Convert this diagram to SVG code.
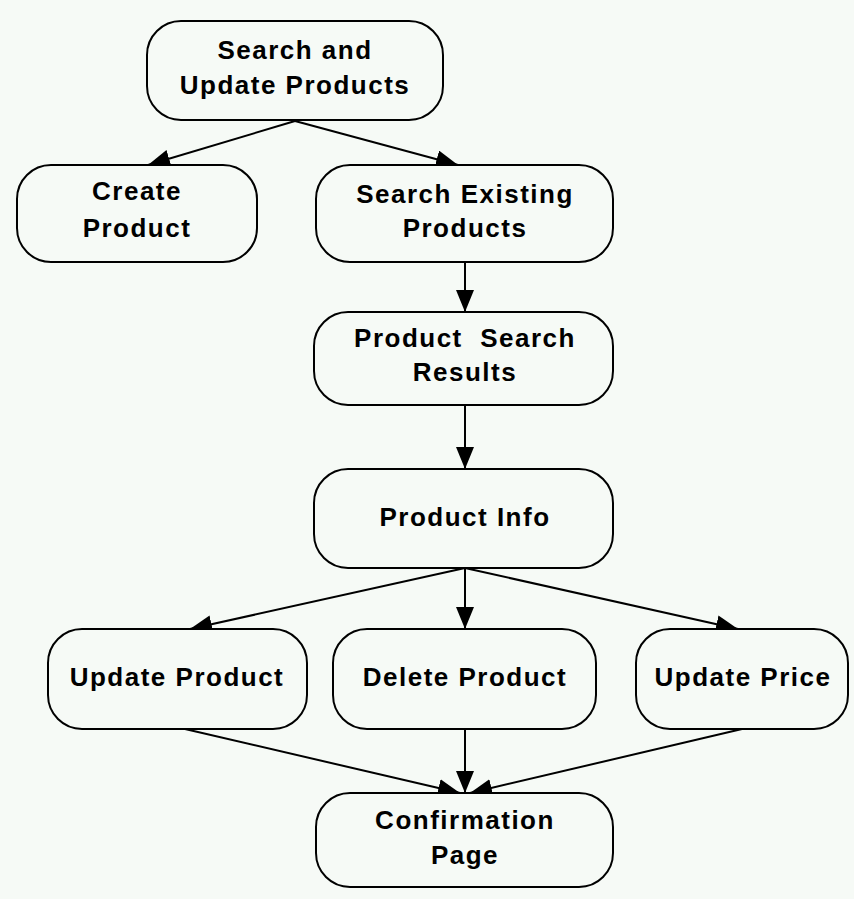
<svg xmlns="http://www.w3.org/2000/svg" width="854" height="899" viewBox="0 0 854 899">
  <style>
    .box { fill: #f6faf6; stroke: #000; stroke-width: 2; }
    .lbl { font-family: "Liberation Sans", Arial, sans-serif; font-weight: bold; font-size: 26px; letter-spacing: 1.5px; text-anchor: middle; fill: #000; }
    .edge { stroke: #000; stroke-width: 2; fill: none; marker-end: url(#arrow); }
  </style>
  <defs>
    <marker id="arrow" markerUnits="userSpaceOnUse" markerWidth="22" markerHeight="18" viewBox="0 0 22 18" refX="22" refY="9" orient="auto">
      <path d="M0,0 L22,9 L0,18 Z" fill="#000"/>
    </marker>
  </defs>
  <rect width="854" height="899" fill="#f6faf6"/>

  <g id="connectors">
    <line class="edge" x1="295" y1="121" x2="148" y2="165"/>
    <line class="edge" x1="295" y1="121" x2="458" y2="165"/>
    <line class="edge" x1="465" y1="262" x2="465" y2="312"/>
    <line class="edge" x1="465" y1="405" x2="465" y2="469"/>
    <line class="edge" x1="465" y1="568" x2="190" y2="629"/>
    <line class="edge" x1="465" y1="568" x2="465" y2="629"/>
    <line class="edge" x1="465" y1="568" x2="738" y2="629"/>
    <line class="edge" x1="185" y1="729" x2="460" y2="793"/>
    <line class="edge" x1="465" y1="729" x2="465" y2="793"/>
    <line class="edge" x1="742" y1="729" x2="470" y2="793"/>
  </g>

  <g id="search-update">
    <rect class="box" x="147" y="21" width="296" height="99" rx="34" ry="34"/>
    <text class="lbl" x="295" y="59">Search and</text>
    <text class="lbl" x="295" y="94">Update Products</text>
  </g>

  <g id="create-product">
    <rect class="box" x="17" y="165" width="240" height="97" rx="34" ry="34"/>
    <text class="lbl" x="137" y="200">Create</text>
    <text class="lbl" x="137" y="237">Product</text>
  </g>

  <g id="search-existing">
    <rect class="box" x="316" y="165" width="297" height="97" rx="34" ry="34"/>
    <text class="lbl" x="465" y="203">Search Existing</text>
    <text class="lbl" x="465" y="237">Products</text>
  </g>

  <g id="search-results">
    <rect class="box" x="314" y="312" width="299" height="93" rx="34" ry="34"/>
    <text class="lbl" x="465" y="347" xml:space="preserve">Product  Search</text>
    <text class="lbl" x="465" y="381">Results</text>
  </g>

  <g id="product-info">
    <rect class="box" x="314" y="469" width="299" height="99" rx="34" ry="34"/>
    <text class="lbl" x="465" y="526">Product Info</text>
  </g>

  <g id="update-product">
    <rect class="box" x="48" y="629" width="259" height="100" rx="34" ry="34"/>
    <text class="lbl" x="177" y="686">Update Product</text>
  </g>

  <g id="delete-product">
    <rect class="box" x="333" y="629" width="263" height="100" rx="34" ry="34"/>
    <text class="lbl" x="465" y="686">Delete Product</text>
  </g>

  <g id="update-price">
    <rect class="box" x="636" y="629" width="212" height="100" rx="34" ry="34"/>
    <text class="lbl" x="743" y="686">Update Price</text>
  </g>

  <g id="confirmation">
    <rect class="box" x="316" y="793" width="297" height="94" rx="34" ry="34"/>
    <text class="lbl" x="465" y="829">Confirmation</text>
    <text class="lbl" x="465" y="864">Page</text>
  </g>
</svg>
